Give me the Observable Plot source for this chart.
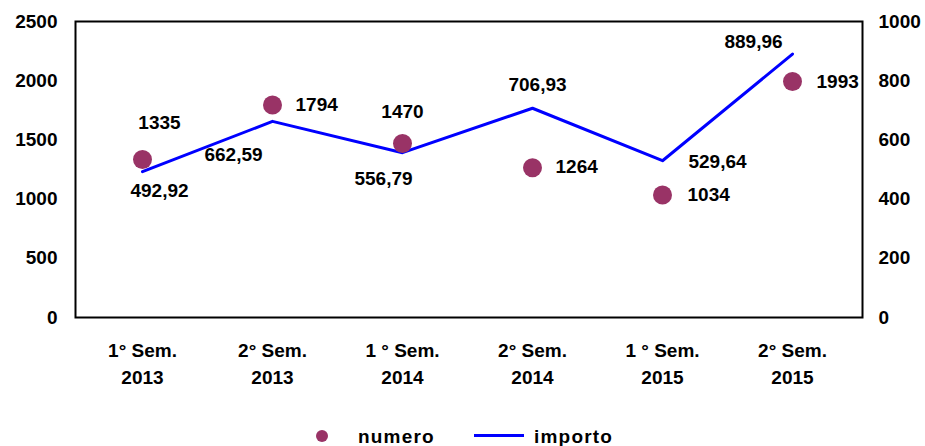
<!DOCTYPE html>
<html>
<head>
<meta charset="utf-8">
<script src="https://cdn.jsdelivr.net/npm/d3@7"></script>
<script src="https://cdn.jsdelivr.net/npm/@observablehq/plot@0.6"></script>
<style>
  html, body { margin: 0; padding: 0; background: #fff; }
  body { width: 925px; height: 446px; position: relative; overflow: hidden;
         font-family: "Liberation Sans", Arial, sans-serif; font-weight: bold; }
  #legend { position: absolute; left: 0; top: 426px; width: 925px; height: 24px; font-size: 19px; color: #000; }
  #legend .dot { position: absolute; left: 316px; top: 4px; width: 12px; height: 12px; border-radius: 50%; background: #993366; }
  #legend .sw { position: absolute; left: 474px; top: 8px; width: 50px; height: 3px; background: #0000ff; }
  #legend .t { position: absolute; top: 0px; letter-spacing: 1.2px; }
</style>
</head>
<body>
<div id="chart"></div>
<div id="legend">
  <span class="dot"></span><span class="t" style="left:358px">numero</span>
  <span class="sw"></span><span class="t" style="left:534px">importo</span>
</div>
<script>
const periods = ["1° Sem.\n2013", "2° Sem.\n2013", "1 ° Sem.\n2014", "2° Sem.\n2014", "1 ° Sem.\n2015", "2° Sem.\n2015"];
const numero = [1335, 1794, 1470, 1264, 1034, 1993];
const importo = [492.92, 662.59, 556.79, 706.93, 529.64, 889.96];
const leftTicks = [0, 500, 1000, 1500, 2000, 2500];
const rightTicks = [0, 200, 400, 600, 800, 1000];
const ratio = 2500 / 1000;

const data = periods.map((p, i) => ({p, numero: numero[i], importo: importo[i], imp: importo[i] * ratio, i}));
const fmtImp = v => v.toFixed(2).replace(".", ",");

// label layout (offsets in px), per point
const numLab = [
  {dx: 17, dy: -37, a: "middle"},
  {dx: 23, dy: 0, a: "start"},
  {dx: 0, dy: -32, a: "middle"},
  {dx: 23, dy: -1, a: "start"},
  {dx: 25, dy: 0, a: "start"},
  {dx: 24, dy: 0, a: "start"}
];
const impLab = [
  {dx: 17, dy: 19},
  {dx: -39, dy: 34},
  {dx: -19, dy: 26},
  {dx: 5, dy: -23},
  {dx: 55, dy: 1},
  {dx: -39, dy: -12}
];

const FS = 19;
const font = {fontSize: FS, fontWeight: "bold", fill: "black"};
const labelMarks = [];
data.forEach((d, i) => {
  labelMarks.push(Plot.text([d], {x: "p", y: "numero", text: d => String(d.numero),
    dx: numLab[i].dx, dy: numLab[i].dy, textAnchor: numLab[i].a, ...font}));
  labelMarks.push(Plot.text([d], {x: "p", y: "imp", text: d => fmtImp(d.importo),
    dx: impLab[i].dx, dy: impLab[i].dy, textAnchor: "middle", ...font}));
});

const chart = Plot.plot({
  width: 925,
  height: 418,
  marginLeft: 75,
  marginRight: 63,
  marginTop: 21,
  marginBottom: 101,
  style: {fontFamily: "'Liberation Sans', Arial, sans-serif", fontWeight: "bold", fontSize: FS + "px", color: "black", background: "white"},
  x: {type: "band", domain: periods, padding: 0, insetRight: 4, label: null},
  y: {domain: [0, 2500], label: null},
  marks: [
    Plot.axisY(leftTicks, {anchor: "left", tickSize: 0, tickPadding: 18, label: null,
      tickFormat: v => String(v), fontSize: FS, fontWeight: "bold"}),
    Plot.axisY(rightTicks.map(v => v * ratio), {anchor: "right", tickSize: 0, tickPadding: 16, label: null,
      tickFormat: v => String(Math.round(v / ratio)), fontSize: FS, fontWeight: "bold"}),
    Plot.axisX({tickSize: 0, tickPadding: 20, label: null, lineHeight: 1.42, fontSize: FS, fontWeight: "bold"}),
    Plot.frame({stroke: "black", strokeWidth: 2}),
    Plot.line(data, {x: "p", y: "imp", stroke: "#0000ff", strokeWidth: 3}),
    Plot.dot(data, {x: "p", y: "numero", r: 9.5, fill: "#993366", stroke: "none"}),
    ...labelMarks
  ]
});
document.getElementById("chart").appendChild(chart);
</script>
</body>
</html>
